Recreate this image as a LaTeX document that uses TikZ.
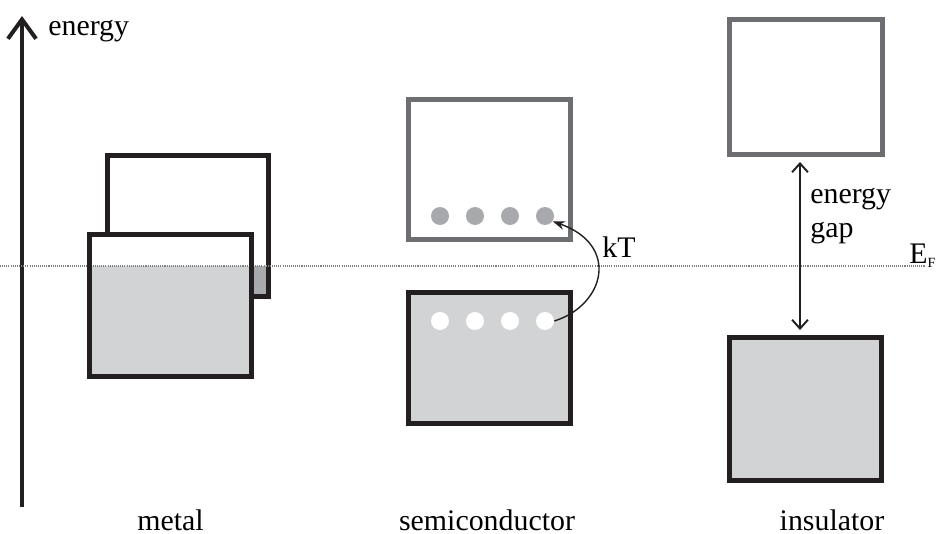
\documentclass[tikz,border=0pt]{standalone}
\usepackage{fontspec}
\setmainfont{Liberation Serif}
\usetikzlibrary{arrows.meta}
\definecolor{inkdark}{HTML}{231F20}
\definecolor{inkgrey}{HTML}{6D6E71}
\definecolor{bandfill}{HTML}{D1D3D4}
\definecolor{dotgrey}{HTML}{A7A9AC}
\tikzset{
  band/.style={draw=inkdark, line width=2.83pt, rectangle, inner sep=0pt},
  emptyband/.style={draw=inkgrey, line width=2.83pt, rectangle, inner sep=0pt, fill=white},
  electron/.style={circle, fill=white, inner sep=0pt, minimum size=0.36cm},
  hole/.style={circle, fill=dotgrey, inner sep=0pt, minimum size=0.36cm},
  lbl/.style={font=\fontsize{17}{19.5}\selectfont, inner sep=0pt},
}
\begin{document}
\begin{tikzpicture}[x={(0.02cm,0)}, y={(0,-0.02cm)}]
\useasboundingbox (0,0) rectangle (937,534);

% energy axis
\draw[line width=2.3pt, inkdark, -{Straight Barb[length=11pt,width=16pt,line width=2.3pt]}]
  (22,507) coordinate (axbot) -- (22,16) coordinate (axtop);
\node[lbl, anchor=base west] (elabel) at (48,35) {energy};

% ---- metal: two overlapping bands ----
\node[band, fill=white, minimum width=3.22cm, minimum height=2.82cm] (mback) at (188,226) {};
\fill[dotgrey] (251.5,266) rectangle (266,294);
\fill[white] (89.5,234.5) rectangle (251.5,266);
\fill[bandfill] (89.5,266) rectangle (251.5,376.5);

% Fermi level
\draw[gray, line width=0.6pt, dash pattern=on 0.6pt off 0.6pt] (0,266) coordinate (efl) -- (925,266) coordinate (efr);
\node[lbl, anchor=base west] (ef) at (909,263) {E\raisebox{-2.5pt}{\fontsize{8}{9}\selectfont F}};

\node[band, minimum width=3.24cm, minimum height=2.84cm] (mfront) at (170.5,305.5) {};
\node[lbl, anchor=base] (mlabel) at (170.5,530) {metal};

% ---- semiconductor ----
\node[emptyband, minimum width=3.24cm, minimum height=2.8cm] (scb) at (489.5,169.5) {};
\node[band, fill=bandfill, minimum width=3.24cm, minimum height=2.62cm] (svb) at (489.5,358) {};
\foreach \i/\x in {1/440,2/475,3/510,4/545} {
  \node[hole] (h\i) at (\x,216) {};
  \node[electron] (e\i) at (\x,321) {};
}
\draw[inkdark, line width=0.8pt, -{Stealth[length=7pt,width=5pt]}]
  (e4.east) .. controls (605,305) and (620,245) .. (h4.-35);
\node[lbl, anchor=base west] (kt) at (602,257) {kT};
\node[lbl, anchor=base] (slabel) at (487,530) {semiconductor};

% ---- insulator ----
\node[emptyband, minimum width=3.06cm, minimum height=2.7cm] (icb) at (806,87) {};
\node[band, fill=bandfill, minimum width=3.04cm, minimum height=2.86cm] (ivb) at (805.5,409) {};
\draw[inkdark, line width=1.1pt, {Straight Barb[length=5pt,width=9pt]}-{Straight Barb[length=5pt,width=9pt]}]
  ([yshift=-0.1cm]icb.south -| 800,0) -- ([yshift=0.1cm]ivb.north -| 800,0);
\node[lbl, anchor=north west, align=left] (gap) at (810,188) {energy\\gap};
\node[lbl, anchor=base] (ilabel) at (832,530) {insulator};
\end{tikzpicture}
\end{document}
